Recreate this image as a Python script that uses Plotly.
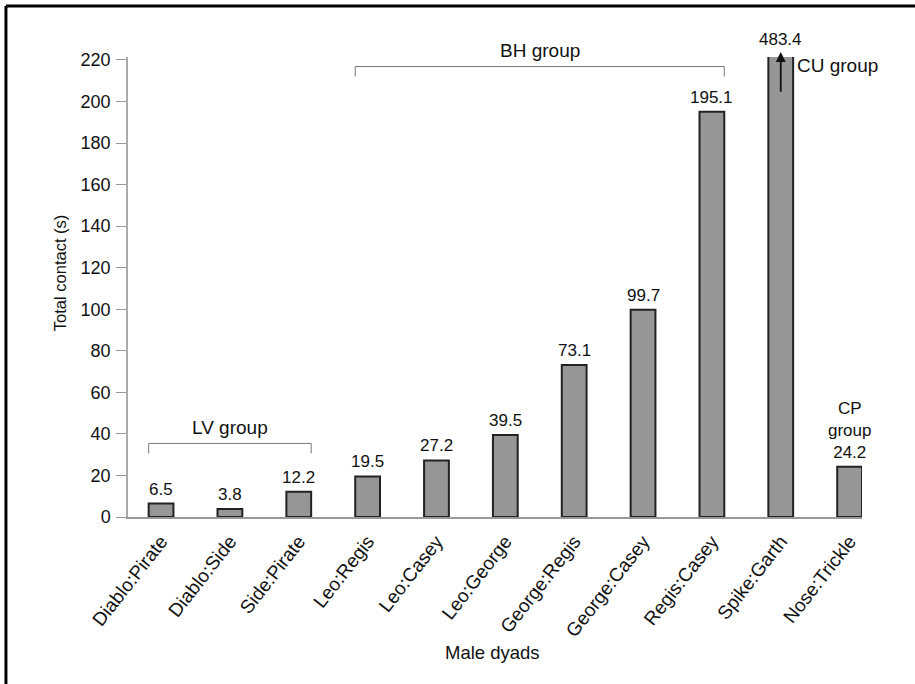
import plotly.graph_objects as go

# male dyads and their total contact time (s)
dyads = ["Diablo:Pirate", "Diablo:Side", "Side:Pirate", "Leo:Regis", "Leo:Casey",
         "Leo:George", "George:Regis", "George:Casey", "Regis:Casey", "Spike:Garth",
         "Nose:Trickle"]
contact = [6.5, 3.8, 12.2, 19.5, 27.2, 39.5, 73.1, 99.7, 195.1, 483.4, 24.2]
value_labels = ["6.5", "3.8", "12.2", "19.5", "27.2", "39.5", "73.1", "99.7",
                "195.1", "483.4", "CP<br>group<br>24.2"]
y_ticks = list(range(0, 221, 20))

# groups bracketed above the bars: (name, first index, last index, bracket height)
groups = [("LV group", 0, 2, 35.4), ("BH group", 3, 8, 216.8)]

YMAX = 221.4
FONT = "Arial, Liberation Sans, Helvetica, sans-serif"
BW = 0.36

fig = go.Figure()
fig.add_trace(go.Bar(
    x=list(range(len(dyads))), y=contact, width=BW,
    marker=dict(color="#969696", line=dict(color="#222222", width=2)),
    showlegend=False, hoverinfo="skip"))

# value labels (the off-scale bar gets its label at the top of the axis)
for i, v in enumerate(contact):
    fig.add_annotation(x=i, y=min(v, YMAX), text=value_labels[i], showarrow=False,
                       yanchor="bottom", yshift=3 if v < YMAX else 6,
                       font=dict(size=17, color="#111"))

# off-scale arrow and CU group label on Spike:Garth
big = contact.index(max(contact))
fig.add_annotation(x=big, y=223.8, ax=big, ay=204, axref="x", ayref="y",
                   showarrow=True, arrowhead=2, arrowsize=1.1, arrowwidth=1.8,
                   arrowcolor="#111", text="")
fig.add_annotation(x=big, y=217.5, text="CU group", showarrow=False,
                   xanchor="left", xshift=14, font=dict(size=19, color="#111"))

# group brackets
for name, a, b, h in groups:
    x0, x1 = a - BW / 2, b + BW / 2
    fig.add_shape(type="line", xref="x", yref="y", x0=x0, x1=x1, y0=h, y1=h,
                  line=dict(color="#777", width=1))
    for xx in (x0, x1):
        fig.add_shape(type="line", xref="x", yref="y", x0=xx, x1=xx, y0=h, y1=h - 4.8,
                      line=dict(color="#777", width=1))
    fig.add_annotation(x=(a + b) / 2, y=h + 1.8, text=name, showarrow=False,
                       yanchor="bottom", font=dict(size=19, color="#111"))

# axis titles
fig.add_annotation(xref="paper", yref="paper", x=0.497, y=-0.2937, text="Male dyads",
                   xanchor="center", yanchor="middle", showarrow=False,
                   font=dict(size=18.5, color="#111"))
fig.add_annotation(xref="paper", yref="paper", x=-0.0927, y=0.53,
                   text="Total contact (s)", textangle=-90, showarrow=False,
                   xanchor="center", yanchor="middle",
                   font=dict(size=16.5, color="#111"))

# outer frame (right and bottom edges fall outside the picture)
fig.add_shape(type="line", xref="paper", yref="paper", x0=-0.1663, x1=1.3,
              y0=1.111, y1=1.111, line=dict(color="black", width=3))
fig.add_shape(type="line", xref="paper", yref="paper", x0=-0.1663, x1=-0.1663,
              y0=1.111, y1=-0.6, line=dict(color="black", width=3))

fig.update_layout(
    width=915, height=684,
    margin=dict(l=128, r=53, t=57, b=167),
    plot_bgcolor="white", paper_bgcolor="white",
    font=dict(family=FONT, color="#111"),
    bargap=0.6,
)
fig.update_xaxes(range=[-0.48, 10.18], tickmode="array",
                 tickvals=list(range(len(dyads))), ticktext=dyads,
                 tickangle=-52, tickfont=dict(size=19), showline=True,
                 linecolor="#999", linewidth=1.5, ticks="", showgrid=False,
                 zeroline=False, ticklabelstandoff=4)
fig.update_yaxes(range=[0, YMAX], tickvals=y_ticks, tickfont=dict(size=18),
                 showline=True, linecolor="#aaa", linewidth=1.5, ticks="outside",
                 ticklen=10, tickcolor="#999", tickwidth=1, showgrid=False,
                 zeroline=False, ticklabelstandoff=2)

fig.write_html("out.html", config={"displayModeBar": False},
               post_script="document.body.style.margin='0';document.body.style.overflow='hidden';")
